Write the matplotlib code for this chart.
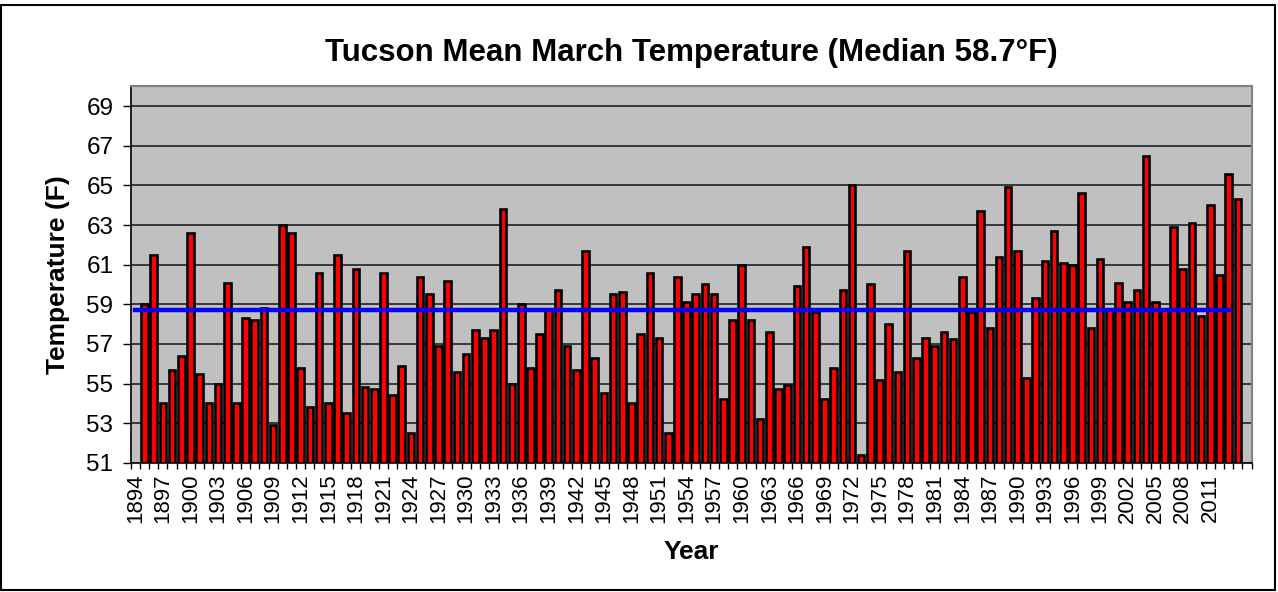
import numpy as np
import matplotlib
matplotlib.use('Agg')
import matplotlib.pyplot as plt
from matplotlib.patches import Rectangle

plt.rcParams['font.family'] = ['Liberation Sans', 'DejaVu Sans']

# mean March temperature (F), 1895-2014
years = np.arange(1895, 2015)
temps = np.array([
    59.0, 61.5, 54.0, 55.7, 56.4, 62.6, 55.5, 54.0, 55.0, 60.1,   # 1895-1904
    54.0, 58.3, 58.2, 58.8, 52.9, 63.0, 62.6, 55.8, 53.8, 60.6,   # 1905-1914
    54.0, 61.5, 53.5, 60.8, 54.8, 54.7, 60.6, 54.4, 55.9, 52.5,   # 1915-1924
    60.4, 59.5, 56.9, 60.2, 55.6, 56.5, 57.7, 57.3, 57.7, 63.8,   # 1925-1934
    55.0, 59.0, 55.8, 57.5, 58.7, 59.7, 56.9, 55.7, 61.7, 56.3,   # 1935-1944
    54.5, 59.5, 59.6, 54.0, 57.5, 60.6, 57.3, 52.5, 60.4, 59.1,   # 1945-1954
    59.5, 60.0, 59.5, 54.2, 58.2, 61.0, 58.2, 53.2, 57.6, 54.7,   # 1955-1964
    54.9, 59.9, 61.9, 58.6, 54.2, 55.8, 59.7, 65.0, 51.4, 60.0,   # 1965-1974
    55.2, 58.0, 55.6, 61.7, 56.3, 57.3, 56.9, 57.6, 57.25, 60.4,  # 1975-1984
    58.6, 63.7, 57.8, 61.4, 64.9, 61.7, 55.3, 59.3, 61.2, 62.7,   # 1985-1994
    61.1, 61.0, 64.6, 57.8, 61.3, 58.7, 60.1, 59.1, 59.7, 66.5,   # 1995-2004
    59.1, 58.7, 62.9, 60.8, 63.1, 58.4, 64.0, 60.5, 65.6, 64.3,   # 2005-2014
])
median = 58.7
median_years = np.arange(1894, 2014)   # the median series row in the sheet
label_years = np.arange(1894, 2012, 3)
y_ticks = np.arange(51, 70, 2)
y_min, y_max = 51, 70

fig = plt.figure(figsize=(12.78, 5.92), dpi=100)
ax = fig.add_axes([0.1023, 0.2184, 0.8771, 0.6355])
ax.set_facecolor('#C0C0C0')

ax.bar(years, temps - y_min, bottom=y_min, width=0.72, color='#FF0000',
       edgecolor='black', linewidth=1.9, zorder=3)
ax.plot(median_years, np.full(len(median_years), median), color='#0000FF',
        linewidth=3.2, solid_capstyle='projecting', zorder=4)

ax.set_xlim(1893.5, 2015.5)
ax.set_ylim(y_min, y_max)

ax.set_yticks(y_ticks)
ax.yaxis.grid(True, color='#202020', linewidth=1.2, zorder=1)
ax.set_axisbelow(True)
ax.tick_params(axis='y', direction='out', length=5.5, width=1, pad=7,
               labelsize=17.5, colors='black')

# category tick marks sit between the years, labels every third year
ax.set_xticks(label_years)
ax.set_xticklabels([str(y) for y in label_years], rotation=90, fontsize=16)
ax.set_xticks(np.arange(1893.5, 2016, 1), minor=True)
ax.tick_params(axis='x', which='major', length=0, pad=8)
ax.tick_params(axis='x', which='minor', direction='out', length=4, width=1)

for side in ['left', 'bottom']:
    ax.spines[side].set_color('black')
    ax.spines[side].set_linewidth(1.2)
for side in ['top', 'right']:
    ax.spines[side].set_color('#808080')
    ax.spines[side].set_linewidth(1.5)

ax.set_title('Tucson Mean March Temperature (Median 58.7°F)', fontsize=22.5,
             fontweight='bold', pad=18)
ax.set_ylabel('Temperature (F)', fontsize=19, fontweight='bold', labelpad=12)
ax.set_xlabel('Year', fontsize=19, fontweight='bold', labelpad=12)

# chart frame
fig.patches.append(Rectangle((0.001, 0.003), 0.997, 0.988, transform=fig.transFigure,
                             fill=False, edgecolor='black', linewidth=1.5))

fig.savefig('out.png', dpi=100)
